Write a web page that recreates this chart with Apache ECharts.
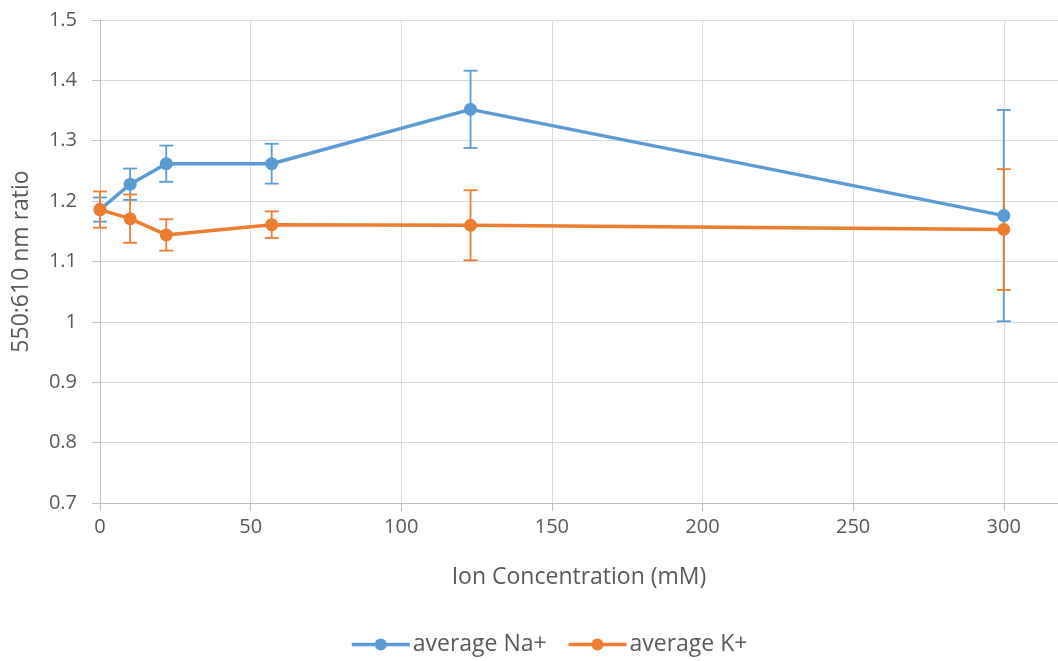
<!DOCTYPE html>
<html>
<head>
<meta charset="utf-8">
<script src="https://cdn.jsdelivr.net/npm/echarts@6/dist/echarts.min.js"></script>
<style>html,body{margin:0;padding:0;background:#fff}#c{width:1058px;height:661px}</style>
</head>
<body>
<div id="c"></div>
<script>
const concentrations = [0, 10, 22, 57, 123, 300];
const naMeans = [1.186, 1.228, 1.262, 1.262, 1.352, 1.176];
const naErrors = [0.02, 0.026, 0.03, 0.033, 0.064, 0.175];
const kMeans = [1.186, 1.171, 1.144, 1.161, 1.160, 1.153];
const kErrors = [0.03, 0.04, 0.026, 0.022, 0.058, 0.1];
const xTicks = [0, 50, 100, 150, 200, 250, 300];

const BLUE = '#5B9BD5', ORANGE = '#ED7D31';
const FONT = '"Open Sans", "Noto Sans", sans-serif';

function pairs(xs, ys) { return xs.map((x, i) => [x, ys[i]]); }
function errData(xs, ys, es) { return xs.map((x, i) => [x, ys[i] - es[i], ys[i] + es[i]]); }

function errorSeries(name, color, data) {
  return {
    type: 'custom',
    name: name + ' err',
    data: data,
    z: 1,
    silent: true,
    encode: { x: 0, y: [1, 2] },
    renderItem: function (params, api) {
      const x = api.value(0);
      const lo = api.coord([x, api.value(1)]);
      const hi = api.coord([x, api.value(2)]);
      const w = 7;
      const style = { stroke: color, lineWidth: 1.8, fill: null };
      return {
        type: 'group',
        children: [
          { type: 'line', shape: { x1: lo[0], y1: lo[1], x2: hi[0], y2: hi[1] }, style: style },
          { type: 'line', shape: { x1: lo[0] - w, y1: lo[1], x2: lo[0] + w, y2: lo[1] }, style: style },
          { type: 'line', shape: { x1: hi[0] - w, y1: hi[1], x2: hi[0] + w, y2: hi[1] }, style: style }
        ]
      };
    }
  };
}

const chart = echarts.init(document.getElementById('c'));
chart.setOption({
  backgroundColor: '#fff',
  animation: false,
  grid: { left: 100, right: 0, top: 20, bottom: 158 },
  legend: {
    bottom: 0,
    left: 345,
    itemWidth: 58,
    itemHeight: 15,
    itemGap: 20,
    lineStyle: { width: 3.5 },
    data: ['average Na+', 'average K+'],
    textStyle: { color: '#595959', fontSize: 23, fontFamily: FONT, padding: [0, 0, 0, -2] }
  },
  xAxis: {
    type: 'value',
    min: 0,
    max: 318,
    interval: 50,
    name: 'Ion Concentration (mM)',
    nameLocation: 'middle',
    nameGap: 63,
    nameTextStyle: { color: '#595959', fontSize: 23, fontFamily: FONT },
    axisLine: { show: true, onZero: false, lineStyle: { color: '#bfbfbf', width: 1 } },
    axisTick: { show: true, length: 8, customValues: xTicks, lineStyle: { color: '#bfbfbf' } },
    axisLabel: {
      color: '#595959', fontSize: 20, fontFamily: FONT, margin: 14,
      customValues: xTicks,
      formatter: v => (xTicks.indexOf(v) >= 0 ? String(v) : '')
    },
    splitLine: { show: true, lineStyle: { color: '#d9d9d9', width: 1 } }
  },
  yAxis: {
    type: 'value',
    min: 0.7,
    max: 1.5,
    interval: 0.1,
    name: '550:610 nm ratio',
    nameLocation: 'middle',
    nameGap: 67,
    nameTextStyle: { color: '#595959', fontSize: 23, fontFamily: FONT },
    axisLine: { show: true, lineStyle: { color: '#bfbfbf', width: 1 } },
    axisTick: { show: true, length: 8, lineStyle: { color: '#bfbfbf' } },
    axisLabel: {
      color: '#595959', fontSize: 20, fontFamily: FONT, margin: 23,
      formatter: v => String(Math.round(v * 10) / 10)
    },
    splitLine: { show: true, lineStyle: { color: '#d9d9d9', width: 1 } }
  },
  series: [
    errorSeries('average Na+', BLUE, errData(concentrations, naMeans, naErrors)),
    errorSeries('average K+', ORANGE, errData(concentrations, kMeans, kErrors)),
    {
      name: 'average Na+',
      type: 'line',
      data: pairs(concentrations, naMeans),
      symbol: 'circle',
      symbolSize: 13,
      z: 3,
      itemStyle: { color: BLUE },
      lineStyle: { color: BLUE, width: 3.5 }
    },
    {
      name: 'average K+',
      type: 'line',
      data: pairs(concentrations, kMeans),
      symbol: 'circle',
      symbolSize: 13,
      z: 3,
      itemStyle: { color: ORANGE },
      lineStyle: { color: ORANGE, width: 3.5 }
    }
  ]
});
</script>
</body>
</html>
